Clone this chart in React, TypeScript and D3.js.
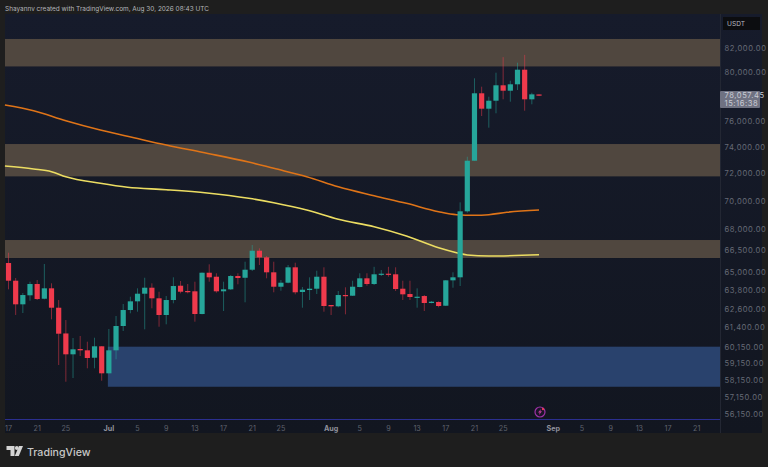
import React from "react";
import * as d3 from "d3";

const opens = [65644,64453,62898,63487,64233,63263,63948,62677,61030,59727,60055,59974,59517,60224,58564,59974,61502,62528,63093,63592,63988,63290,62206,63178,64120,63770,63750,62270,64988,64720,63750,63881,64767,64651,65190,66485,66030,65016,64054,64320,65352,63704,63835,63922,64720,62853,62768,63506,63460,64034,64613,64233,64855,64922,64882,63922,63572,63355,63440,62983,63048,62807,64479,64680,69251,72973,78246,77008,77648,78896,78455,78978,80179,77760,78150];
const highs = [66349,64633,63638,64386,64499,65577,64280,63178,61884,60743,60869,60511,60762,60240,61311,62142,62918,63395,63948,64651,64280,63723,63440,64680,64433,64233,64386,65000,65557,64950,64386,64835,64950,65733,66876,66650,66122,65733,64499,65509,65665,64034,64680,65122,65352,62853,63770,64014,64453,64950,64950,65386,65170,65386,65352,64453,64453,63948,63506,63113,63093,64499,65016,69897,73276,79468,78782,77970,79932,81227,79272,80762,81420,78290,78170];
const lows = [63881,62208,62335,63132,63178,63224,61929,59070,58057,58280,59622,58868,58868,58117,58564,59418,61184,62316,62419,61291,62638,61457,61610,62963,63618,63618,61777,62250,64386,63658,62463,63835,64214,63028,65103,65509,64613,63685,63789,64280,63552,62677,63178,63572,62419,62206,62703,62250,63440,64014,64120,64167,64767,64720,63770,63178,63178,62677,62463,62963,62703,62788,63988,64100,69150,72973,76428,75510,76643,77760,77568,78512,76848,77360,78030];
const closes = [64453,62898,63506,64233,63243,63948,62677,61014,59727,60036,59974,59499,60224,58564,59974,61502,62528,63093,63592,63988,63290,62206,63178,64100,63723,63704,62270,64988,64680,63750,63881,64767,64633,65190,66485,66030,65016,64054,64320,65352,63685,63855,63922,64720,62788,62768,63506,63440,64054,64613,64233,64882,64922,64855,63901,63552,63375,63395,62983,63068,62788,64479,64680,69251,72973,78246,77008,77648,78896,78455,78978,80179,77760,78160,78057];

const ma100Days = [-0.5,3.5,8,12.8,17.5,22,27,33.5,37,41.6,46,51,55.5,60,62.5,65,67,69.5,74];
const ma100Values = [77300,76850,76057,75329,74730,74170,73611,72875,72400,71775,71035,70378,69827,69223,69010,68965,69010,69180,69344];
const ma200Days = [-0.5,3.5,6,8,12.8,16.6,22,27.7,33.5,37,41.6,46,51,55.5,60,62.5,64,67,74];
const ma200Values = [72570,72350,72147,71775,71287,70993,70816,70575,70190,69870,69344,68680,68155,67505,66690,66350,66190,66120,66210];

const priceTicks = [82000,80000,76000,74000,72000,70000,68000,66500,65000,63800,62600,61400,60150,59150,58150,57150,56150];
const dayTickDays = [0,4,8,14,18,22,26,30,34,38,45,49,53,57,61,65,69,76,80,84,88,92,96];
const dayTickLabels = ["17","21","25","Jul","5","9","13","17","21","25","Aug","5","9","13","17","21","25","Sep","5","9","13","17","21"];
const boldTicks = ["Jul","Aug","Sep"];

const supplyZones = [[82770,80450],[74245,71800],[67225,65985]];
const demandZone = [60200,57755];
const blueZoneStartDay = 14;
const lastPrice = 78057.45;

const W = 768, H = 467;
const plotL = 5, plotR = 720, axisR = 762, plotT = 14, plotB = 433;
const font = "Inter, Roboto, 'Noto Sans', sans-serif";

export default function App() {
  const x = d3.scaleLinear().domain([0, 74]).range([8.5, 539]);
  const y = d3.scaleLog().domain([82000, 56150]).range([48, 414]);
  const build = (days: number[], vals: number[]) =>
    d3.line<number>().x((d) => x(d)).y((_, i) => y(vals[i])).curve(d3.curveMonotoneX)(days) as string;
  const bw = 5.2;
  return (
    <svg width={W} height={H} viewBox={`0 0 ${W} ${H}`} style={{ position: "fixed", left: 0, top: 0, background: "#1e1e1e" }}>
      <defs>
        <linearGradient id="bg" x1="0" y1="0" x2="0" y2="1">
          <stop offset="0" stopColor="#161b2b" />
          <stop offset="1" stopColor="#121620" />
        </linearGradient>
      </defs>
      <rect x={plotL} y={plotT} width={axisR - plotL} height={plotB - plotT} fill="url(#bg)" />
      <line x1={plotR + 0.5} x2={plotR + 0.5} y1={plotT} y2={plotB} stroke="#232733" />
      <text x={5} y={10.5} fontSize={6.45} fill="#b4b6bb" fontFamily={font}>Shayannv created with TradingView.com, Aug 30, 2026 08:43 UTC</text>

      {supplyZones.map((z, i) => (
        <rect key={i} x={plotL} width={plotR - plotL} y={y(z[0])} height={y(z[1]) - y(z[0])} fill="#50473f" />
      ))}
      <rect x={x(blueZoneStartDay) - 1} width={plotR - x(blueZoneStartDay) + 1} y={y(demandZone[0])} height={y(demandZone[1]) - y(demandZone[0])} fill="#29426d" />
      <line x1={plotL} x2={plotR} y1={419.5} y2={419.5} stroke="#2b2f8f" strokeWidth={1.2} />

      <path d={build(ma100Days, ma100Values)} fill="none" stroke="#df7418" strokeWidth={1.6} />
      <path d={build(ma200Days, ma200Values)} fill="none" stroke="#ecdd62" strokeWidth={1.6} />

      {closes.map((c, i) => {
        const o = opens[i];
        const up = c >= o;
        const col = up ? "#26a69a" : "#ef3a4c";
        const top = y(Math.max(o, c));
        const bot = y(Math.min(o, c));
        return (
          <g key={i}>
            <line x1={x(i)} x2={x(i)} y1={y(highs[i])} y2={y(lows[i])} stroke={col} strokeOpacity={0.5} strokeWidth={1} />
            <rect x={x(i) - bw / 2} width={bw} y={top} height={Math.max(bot - top, 1.2)} fill={col} />
          </g>
        );
      })}

      <g transform="translate(540,412)">
        <circle r={5} fill="#1b1428" stroke="#a032a8" strokeWidth={1.2} />
        <path d="M1,-3 L-2,0.6 L-0.3,0.6 L-1,3 L2,-0.8 L0.3,-0.8 Z" fill="#c03a9a" />
        <circle cx={3} cy={-3} r={1.2} fill="#e23a5a" />
      </g>

      {priceTicks.map((p) => (
        <text key={p} x={724.5} y={y(p) + 2.8} fontSize={7.6} letterSpacing={0.55} fill="#666a76" fontFamily={font}>
          {d3.format(",.2f")(p)}
        </text>
      ))}
      <rect x={723} y={17} width={37} height={13} fill="#0c0d10" />
      <text x={727} y={26} fontSize={6.6} fill="#b8bac0" fontFamily={font}>USDT</text>
      <rect x={720} y={y(lastPrice) - 4.5} width={40} height={17} rx={1} fill="#6f7282" />
      <text x={724.5} y={y(lastPrice) + 2.5} fontSize={7.6} letterSpacing={0.55} fill="#c9cbd4" fontFamily={font}>{d3.format(",.2f")(lastPrice)}</text>
      <text x={724.5} y={y(lastPrice) + 10.5} fontSize={7.6} letterSpacing={0.55} fill="#c9cbd4" fontFamily={font}>15:16:38</text>

      {dayTickDays.map((d, i) => (
        <text
          key={i}
          x={x(d)}
          y={430.5}
          textAnchor="middle"
          fontSize={7.2}
          fontWeight={boldTicks.includes(dayTickLabels[i]) ? 700 : 400}
          fill={boldTicks.includes(dayTickLabels[i]) ? "#8f919b" : "#5f626d"}
          fontFamily={font}
        >
          {dayTickLabels[i]}
        </text>
      ))}

      <g fill="#d4d4d4">
        <path d="M6.5,446 H14.5 V456 H10.5 V450 H6.5 Z" />
        <circle cx={16.8} cy={448} r={1.9} />
        <path d="M19,446 H23 L18.8,456 H14.8 Z" />
      </g>
      <text x={27} y={455.5} fontSize={10.6} fontWeight={500} fill="#c8c8c8" fontFamily={font}>TradingView</text>
    </svg>
  );
}
